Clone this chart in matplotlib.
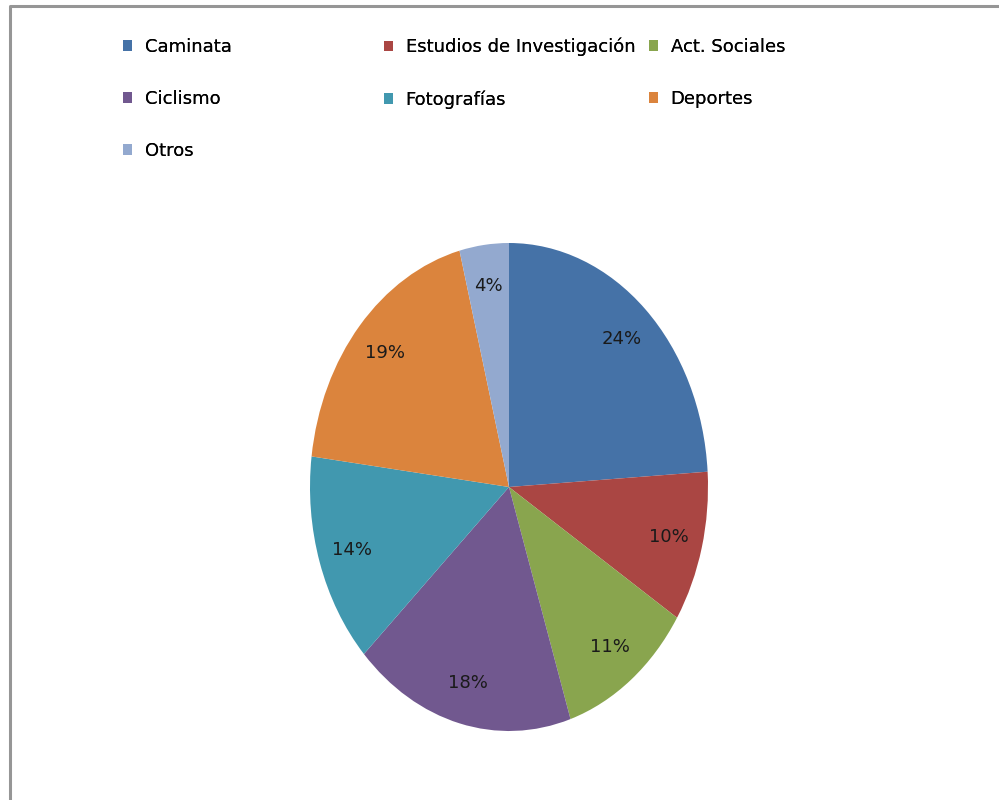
import matplotlib
matplotlib.use("Agg")
import matplotlib.pyplot as plt
from matplotlib.lines import Line2D

categories = ["Caminata", "Estudios de Investigación", "Act. Sociales",
              "Ciclismo", "Fotografías", "Deportes", "Otros"]
values = [24, 10, 11, 18, 14, 19, 4]
colors = ["#4572A7", "#AA4643", "#89A54E", "#71588F", "#4198AF", "#DB843D", "#93A9CF"]

# legend columns as laid out in the reference (row-wise order)
legend_columns = [
    ["Caminata", "Ciclismo", "Otros"],
    ["Estudios de Investigación", "Fotografías"],
    ["Act. Sociales", "Deportes"],
]

W, H = 999, 800
fig = plt.figure(figsize=(W / 100, H / 100), dpi=100)

# pie area (slightly squashed ellipse like the original)
left, right, top, bottom = 310, 708, 243, 731
ax = fig.add_axes([left / W, 1 - bottom / H, (right - left) / W, (bottom - top) / H])
wedges, texts, autotexts = ax.pie(
    values,
    colors=colors,
    startangle=90,
    counterclock=False,
    autopct="%1.0f%%",
    pctdistance=0.83,
    wedgeprops=dict(linewidth=0),
    textprops=dict(fontsize=13, color="#1a1a1a"),
)
ax.set_aspect("auto")
ax.set_xlim(-1, 1)
ax.set_ylim(-1, 1)
ax.axis("off")

# legend, three separate columns
handle_by_name = dict(zip(categories, wedges))
col_x = [123, 384, 649]
for x, names in zip(col_x, legend_columns):
    leg = fig.legend(
        [handle_by_name[n] for n in names], names,
        loc="upper left", bbox_to_anchor=(x / W, 1 - 38 / H),
        bbox_transform=fig.transFigure,
        frameon=False, fontsize=13, borderpad=0, borderaxespad=0,
        handlelength=0.5, handleheight=0.5, handletextpad=0.7,
        labelspacing=1.88,
    )
    fig.add_artist(leg)

# gray frame (top and left edges visible)
fig.add_artist(Line2D([9.5 / W, 9.5 / W, 1.0], [0.0, 1 - 5.5 / H, 1 - 5.5 / H],
                      transform=fig.transFigure, color="#969696", linewidth=2.2))

fig.savefig("out.png", dpi=100)
